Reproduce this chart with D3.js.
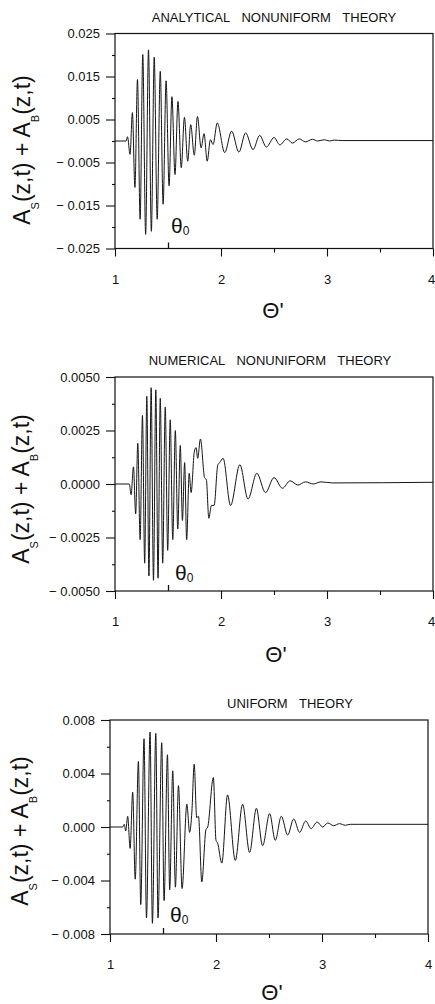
<!DOCTYPE html>
<html>
<head>
<meta charset="utf-8">
<script src="https://cdn.jsdelivr.net/npm/d3@7"></script>
<style>
body { margin: 0; background: #fff; }
svg text { font-family: "Liberation Sans", Arial, Helvetica, sans-serif; fill: #111; }
</style>
</head>
<body>
<svg id="chart" width="435" height="1004"></svg>
<script>
// Extrema of the three traces (theta', amplitude)

var analyticTheta = [1.000, 1.105, 1.118, 1.142, 1.164, 1.188, 1.212, 1.237, 1.262, 1.289,
                     1.316, 1.343, 1.370, 1.398, 1.427, 1.454, 1.482, 1.510, 1.537, 1.566,
                     1.594, 1.625, 1.655, 1.686, 1.714, 1.748, 1.778, 1.812, 1.840, 1.870,
                     1.900, 1.925, 1.965, 2.035, 2.100, 2.169, 2.232, 2.302, 2.365, 2.428,
                     2.501, 2.555, 2.621, 2.674, 2.738, 2.795, 2.864, 2.911, 2.975, 3.022,
                     3.069, 3.150, 4.000];
var analyticValue = [0, 0, 0.0010, -0.0031, 0.0066, -0.0108, 0.0143, -0.0182, 0.0201, -0.0217,
                     0.0212, -0.0210, 0.0195, -0.0182, 0.0162, -0.0147, 0.0140, -0.0104, 0.0103, -0.0078,
                     0.0092, -0.0062, 0.0055, -0.0047, 0.0038, -0.0033, 0.0057, -0.0016, 0.0017, -0.0047,
                     0.0003, -0.0008, 0.0042, -0.0027, 0.0023, -0.0026, 0.0019, -0.0020, 0.0013, -0.0014,
                     0.0008, -0.0009, 0.0005, -0.0005, 0.0005, -0.0002, 0.0004, 0.0000, 0.0003, 0.0000,
                     0.0002, 0.0001, 0.0001];

var numericTheta = [1.000, 1.135, 1.152, 1.174, 1.195, 1.215, 1.237, 1.259, 1.280, 1.300,
                    1.320, 1.341, 1.363, 1.385, 1.406, 1.427, 1.450, 1.474, 1.497, 1.521,
                    1.545, 1.569, 1.592, 1.616, 1.636, 1.657, 1.676, 1.700, 1.718, 1.748,
                    1.765, 1.780, 1.806, 1.845, 1.862, 1.885, 1.910, 1.935, 1.970, 1.988,
                    2.020, 2.090, 2.178, 2.255, 2.338, 2.420, 2.500, 2.580, 2.652, 2.725,
                    2.797, 2.870, 2.943, 3.050, 4.000];
var numericValue = [0, 0, -0.0005, 0.0008, -0.0014, 0.0019, -0.0026, 0.0032, -0.0037, 0.0041,
                    -0.0043, 0.0045, -0.0045, 0.0044, -0.0044, 0.0040, -0.0037, 0.0036, -0.0031, 0.0030,
                    -0.0026, 0.0025, -0.0021, 0.0018, -0.0017, 0.0010, -0.0026, 0.0005, -0.0004, 0.0015,
                    0.0017, 0.0012, 0.0021, 0.0003, 0.0002, -0.0016, -0.0010, -0.0010, 0.0009, 0.0010,
                    0.0012, -0.0010, 0.0009, -0.0007, 0.0005, -0.0004, 0.0003, -0.0002, 0.00015, -0.00005,
                    0.0001, 0.0000, 0.0001, 0.00005, 0.00008];

var uniformTheta = [1.000, 1.120, 1.135, 1.148, 1.167, 1.190, 1.214, 1.238, 1.268, 1.290,
                    1.321, 1.344, 1.378, 1.400, 1.432, 1.453, 1.488, 1.510, 1.542, 1.563,
                    1.592, 1.617, 1.646, 1.680, 1.725, 1.751, 1.773, 1.794, 1.818, 1.835,
                    1.866, 1.905, 1.922, 1.975, 2.000, 2.015, 2.055, 2.109, 2.182, 2.251,
                    2.317, 2.381, 2.440, 2.506, 2.559, 2.616, 2.676, 2.733, 2.789, 2.846,
                    2.897, 2.954, 3.007, 3.054, 3.110, 3.165, 3.220, 3.268, 3.350, 4.000];
var uniformValue = [0, 0, 0.0002, -0.0003, 0.0008, -0.0016, 0.0026, -0.0039, 0.0049, -0.0058,
                    0.0066, -0.0068, 0.0071, -0.0072, 0.0070, -0.0068, 0.0063, -0.0055, 0.0054, -0.0047,
                    0.0042, -0.0045, 0.0031, -0.0046, 0.0017, -0.0004, 0.0012, 0.0047, 0.0007, 0.0008,
                    -0.0041, -0.0002, 0.0000, 0.0037, -0.0010, -0.0012, -0.0027, 0.0024, -0.0025, 0.0017,
                    -0.0019, 0.0014, -0.0014, 0.0010, -0.0010, 0.0008, -0.0006, 0.0006, -0.0004, 0.00045,
                    -0.00012, 0.00037, 0.0000, 0.0003, 0.0001, 0.00025, 0.00013, 0.0002, 0.0002, 0.0002];

// axis ticks
var thetaTicks = [1, 2, 3, 4];
var thetaMinorTicks = [2.5, 3.5];
var theta0 = 1.5;

var analyticTicks = [-0.025, -0.015, -0.005, 0.005, 0.015, 0.025];
var analyticLabels = ["\u2212 0.025", "\u2212 0.015", "\u2212 0.005", "0.005", "0.015", "0.025"];
var analyticMinor = [-0.02, -0.01, 0, 0.01, 0.02];

var numericTicks = [-0.005, -0.0025, 0, 0.0025, 0.005];
var numericLabels = ["\u2212 0.0050", "\u2212 0.0025", "0.0000", "0.0025", "0.0050"];
var numericMinor = [-0.00375, -0.00125, 0.00125, 0.00375];

var uniformTicks = [-0.008, -0.004, 0, 0.004, 0.008];
var uniformLabels = ["\u2212 0.008", "\u2212 0.004", "0.000", "0.004", "0.008"];
var uniformMinor = [-0.006, -0.002, 0.002, 0.006];

var panels = [
  { title: "ANALYTICAL NONUNIFORM THEORY", theta: analyticTheta, value: analyticValue,
    ticks: analyticTicks, labels: analyticLabels, minor: analyticMinor,
    left: 115, right: 433, top: 33.5, bottom: 248.5,
    titleX: 274, titleY: 22, yTitleX: 30, yTitleY: 150,
    xLabelX: 273, xLabelY: 318, t0dx: 3, t0y: 233 },
  { title: "NUMERICAL NONUNIFORM THEORY", theta: numericTheta, value: numericValue,
    ticks: numericTicks, labels: numericLabels, minor: numericMinor,
    left: 115, right: 433, top: 377, bottom: 591,
    titleX: 270, titleY: 365, yTitleX: 28.5, yTitleY: 489,
    xLabelX: 276, xLabelY: 662, t0dx: 7, t0y: 580 },
  { title: "UNIFORM THEORY", theta: uniformTheta, value: uniformValue,
    ticks: uniformTicks, labels: uniformLabels, minor: uniformMinor,
    left: 110, right: 428, top: 720, bottom: 934,
    titleX: 290, titleY: 708, yTitleX: 27.5, yTitleY: 831,
    xLabelX: 272, xLabelY: 1000, t0dx: 7, t0y: 922 }
];

var svg = d3.select("#chart");
var W = 435;

panels.forEach(function(p) {
  var x = d3.scaleLinear().domain([1, 4]).range([p.left, p.right]);
  var y = d3.scaleLinear().domain([p.ticks[0], p.ticks[p.ticks.length - 1]]).range([p.bottom, p.top]);
  var g = svg.append("g");

  // y axis, major ticks with labels
  var ya = g.append("g").attr("transform", "translate(" + p.left + ",0)")
    .call(d3.axisLeft(y).tickValues(p.ticks).tickSize(9).tickPadding(6)
      .tickFormat(function(d, i) { return p.labels[i]; }));
  ya.select(".domain").remove();
  ya.selectAll("text").attr("font-size", 13).attr("font-family", null);
  ya.selectAll("line").attr("stroke", "#111").attr("stroke-width", 1.1);

  var ym = g.append("g").attr("transform", "translate(" + p.left + ",0)")
    .call(d3.axisLeft(y).tickValues(p.minor).tickSize(3).tickFormat(""));
  ym.select(".domain").remove();
  ym.selectAll("line").attr("stroke", "#111").attr("stroke-width", 1.1);

  // theta' axis
  var xa = g.append("g").attr("transform", "translate(0," + p.bottom + ")")
    .call(d3.axisBottom(x).tickValues(thetaTicks).tickSize(8).tickPadding(18)
      .tickFormat(d3.format("d")));
  xa.select(".domain").remove();
  xa.selectAll("text").attr("font-size", 13).attr("font-family", null)
    .attr("dx", function(d) { return Math.min(0, W - 4 - x(d)); });
  xa.selectAll("line").attr("stroke", "#111").attr("stroke-width", 1.1);

  var xm = g.append("g").attr("transform", "translate(0," + p.bottom + ")")
    .call(d3.axisBottom(x).tickValues(thetaMinorTicks).tickSize(4).tickFormat(""));
  xm.select(".domain").remove();
  xm.selectAll("line").attr("stroke", "#111").attr("stroke-width", 1.1);

  var xt = g.append("g").attr("transform", "translate(0," + p.bottom + ")")
    .call(d3.axisBottom(x).tickValues([theta0]).tickSize(-6).tickFormat(""));
  xt.select(".domain").remove();
  xt.selectAll("line").attr("stroke", "#111").attr("stroke-width", 1.3);

  // frame
  g.append("rect")
    .attr("x", p.left).attr("y", p.top)
    .attr("width", p.right - p.left).attr("height", p.bottom - p.top)
    .attr("fill", "none").attr("stroke", "#111").attr("stroke-width", 1.2);

  // trace
  var line = d3.line()
    .x(function(d, i) { return x(p.theta[i]); })
    .y(function(d, i) { return y(p.value[i]); })
    .curve(d3.curveMonotoneX);
  g.append("path").datum(p.value)
    .attr("d", line)
    .attr("fill", "none")
    .attr("stroke", "#151515")
    .attr("stroke-width", 1);

  // titles and labels
  g.append("text").attr("x", p.titleX).attr("y", p.titleY)
    .attr("text-anchor", "middle").attr("font-size", 13)
    .style("word-spacing", "8px")
    .text(p.title);

  var yt = g.append("text")
    .attr("transform", "translate(" + p.yTitleX + "," + p.yTitleY + ") rotate(-90)")
    .attr("text-anchor", "middle").attr("font-size", 23);
  yt.append("tspan").text("A");
  yt.append("tspan").attr("font-size", 11).attr("dy", 9).text("S");
  yt.append("tspan").attr("dy", -9).text("(z,t) + A");
  yt.append("tspan").attr("font-size", 11).attr("dy", 9).text("B");
  yt.append("tspan").attr("dy", -9).text("(z,t)");

  g.append("text").attr("x", p.xLabelX).attr("y", p.xLabelY)
    .attr("text-anchor", "middle").attr("font-size", 22)
    .text("\u0398'");

  var t0 = g.append("text").attr("x", x(theta0) + p.t0dx).attr("y", p.t0y)
    .attr("font-size", 21);
  t0.append("tspan").text("\u03b8");
  t0.append("tspan").attr("font-size", 12).attr("dy", 2).text("0");
});
</script>
</body>
</html>
